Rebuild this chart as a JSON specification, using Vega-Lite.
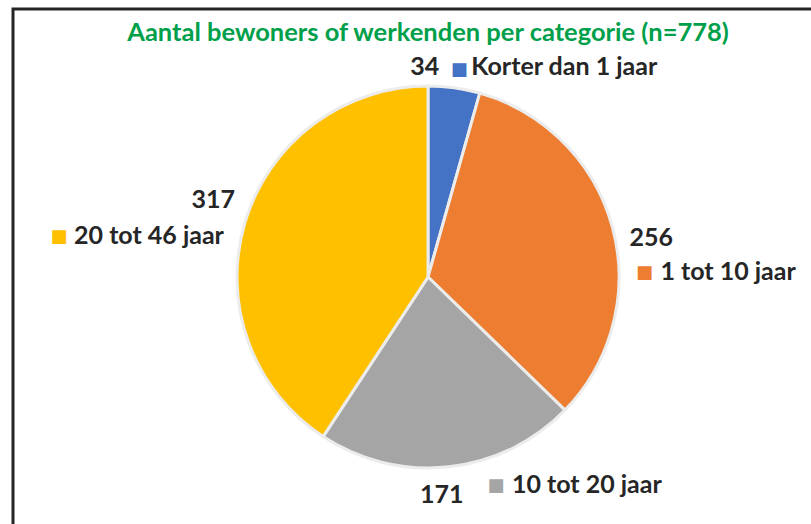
{
  "$schema": "https://vega.github.io/schema/vega-lite/v6.json",
  "width": 830,
  "height": 536,
  "autosize": {"type": "none"},
  "padding": {"left": 13, "top": 9, "right": 0, "bottom": 0},
  "background": "white",
  "view": {"stroke": "#262626", "strokeWidth": 3, "fill": "white"},
  "config": {
    "view": {"stroke": "#262626", "strokeWidth": 3},
    "text": {"font": "Lato", "fontWeight": "bold", "fontSize": 25, "color": "#262626", "baseline": "alphabetic"}
  },
  "title": {
    "text": "Aantal bewoners of werkenden per categorie (n=778)",
    "color": "#00A04B",
    "font": "Lato",
    "fontSize": 25.5,
    "fontWeight": "bold",
    "anchor": "middle",
    "frame": "group",
    "baseline": "alphabetic",
    "offset": -57
  },
  "data": {
    "values": [
      {"categorie": "Korter dan 1 jaar", "aantal": 34, "volgorde": 1},
      {"categorie": "1 tot 10 jaar", "aantal": 256, "volgorde": 2},
      {"categorie": "10 tot 20 jaar", "aantal": 171, "volgorde": 3},
      {"categorie": "20 tot 46 jaar", "aantal": 317, "volgorde": 4}
    ]
  },
  "encoding": {
    "theta": {"field": "aantal", "type": "quantitative", "stack": true},
    "order": {"field": "volgorde", "type": "quantitative"},
    "color": {
      "field": "categorie",
      "type": "nominal",
      "scale": {
        "domain": ["Korter dan 1 jaar", "1 tot 10 jaar", "10 tot 20 jaar", "20 tot 46 jaar"],
        "range": ["#4472C4", "#ED7D31", "#A5A5A5", "#FFC000"]
      },
      "legend": null
    }
  },
  "layer": [
    {"mark": {"type": "arc", "outerRadius": 191, "stroke": "#ececec", "strokeWidth": 3}},

    {"mark": {"type": "text", "radius": 192, "align": "right", "dx": -15, "dy": -12},
     "encoding": {"color": {"value": "#262626"},
       "text": {"condition": {"test": "datum.categorie === 'Korter dan 1 jaar'", "field": "aantal", "type": "quantitative"}, "value": ""}}},
    {"mark": {"type": "text", "radius": 192, "align": "center", "baseline": "middle", "font": "DejaVu Sans", "fontSize": 18, "dx": 5, "dy": -17},
     "encoding": {"text": {"condition": {"test": "datum.categorie === 'Korter dan 1 jaar'", "value": "■"}, "value": ""}}},
    {"mark": {"type": "text", "radius": 192, "align": "left", "dx": 17, "dy": -12},
     "encoding": {"color": {"value": "#262626"},
       "text": {"condition": {"test": "datum.categorie === 'Korter dan 1 jaar'", "field": "categorie", "type": "nominal"}, "value": ""}}},

    {"mark": {"type": "text", "radius": 192, "align": "left", "dx": 16, "dy": 19},
     "encoding": {"color": {"value": "#262626"},
       "text": {"condition": {"test": "datum.categorie === '1 tot 10 jaar'", "field": "aantal", "type": "quantitative"}, "value": ""}}},
    {"mark": {"type": "text", "radius": 192, "align": "center", "baseline": "middle", "font": "DejaVu Sans", "fontSize": 18, "dx": 31, "dy": 46},
     "encoding": {"text": {"condition": {"test": "datum.categorie === '1 tot 10 jaar'", "value": "■"}, "value": ""}}},
    {"mark": {"type": "text", "radius": 192, "align": "left", "dx": 47, "dy": 53},
     "encoding": {"color": {"value": "#262626"},
       "text": {"condition": {"test": "datum.categorie === '1 tot 10 jaar'", "field": "categorie", "type": "nominal"}, "value": ""}}},

    {"mark": {"type": "text", "radius": 192, "align": "left", "dx": -29, "dy": 35},
     "encoding": {"color": {"value": "#262626"},
       "text": {"condition": {"test": "datum.categorie === '10 tot 20 jaar'", "field": "aantal", "type": "quantitative"}, "value": ""}}},
    {"mark": {"type": "text", "radius": 192, "align": "center", "baseline": "middle", "font": "DejaVu Sans", "fontSize": 18, "dx": 47, "dy": 18},
     "encoding": {"text": {"condition": {"test": "datum.categorie === '10 tot 20 jaar'", "value": "■"}, "value": ""}}},
    {"mark": {"type": "text", "radius": 192, "align": "left", "dx": 63, "dy": 25},
     "encoding": {"color": {"value": "#262626"},
       "text": {"condition": {"test": "datum.categorie === '10 tot 20 jaar'", "field": "categorie", "type": "nominal"}, "value": ""}}},

    {"mark": {"type": "text", "radius": 192, "align": "right", "dx": -9, "dy": -14},
     "encoding": {"color": {"value": "#262626"},
       "text": {"condition": {"test": "datum.categorie === '20 tot 46 jaar'", "field": "aantal", "type": "quantitative"}, "value": ""}}},
    {"mark": {"type": "text", "radius": 192, "align": "center", "baseline": "middle", "font": "DejaVu Sans", "fontSize": 18, "dx": -185, "dy": 15},
     "encoding": {"text": {"condition": {"test": "datum.categorie === '20 tot 46 jaar'", "value": "■"}, "value": ""}}},
    {"mark": {"type": "text", "radius": 192, "align": "left", "dx": -170, "dy": 22},
     "encoding": {"color": {"value": "#262626"},
       "text": {"condition": {"test": "datum.categorie === '20 tot 46 jaar'", "field": "categorie", "type": "nominal"}, "value": ""}}}
  ]
}
